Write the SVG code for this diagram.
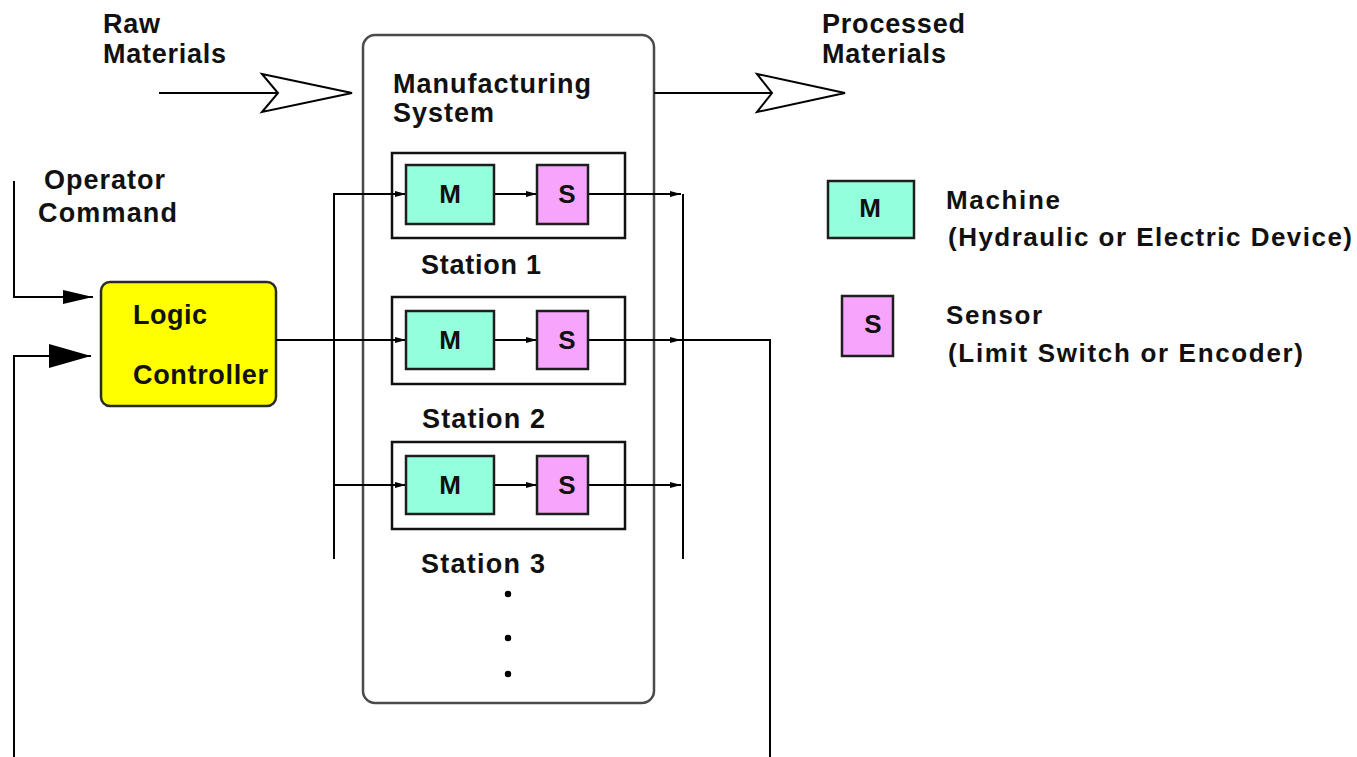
<svg xmlns="http://www.w3.org/2000/svg" width="1357" height="757" viewBox="0 0 1357 757">
<style>
text{font-family:"Liberation Sans",Arial,sans-serif;font-weight:bold;font-size:27px;fill:#111}
.lbl{font-size:26px}
.ms{font-size:26px;text-anchor:middle}
.line{fill:none;stroke:#000;stroke-width:2}
.mach{fill:#93ffdc;stroke:#1e1e1e;stroke-width:2.5}
.sens{fill:#f7a5fc;stroke:#1e1e1e;stroke-width:2.5}
.stn{fill:#fff;stroke:#111;stroke-width:2.5}
.hollow{fill:#fff;stroke:#000;stroke-width:2;stroke-linejoin:miter}
</style>
<defs>
<marker id="sm" viewBox="0 0 11 8" refX="11" refY="4" markerWidth="11" markerHeight="8" markerUnits="userSpaceOnUse" orient="auto">
<path d="M0,1 L11,4 L0,7 z" fill="#000"/>
</marker>
<marker id="md" viewBox="0 0 30 16" refX="30" refY="8" markerWidth="30" markerHeight="16" markerUnits="userSpaceOnUse" orient="auto">
<path d="M0,1 L30,8 L0,15 z" fill="#000"/>
</marker>
<marker id="lg" viewBox="0 0 42 24" refX="42" refY="12" markerWidth="42" markerHeight="24" markerUnits="userSpaceOnUse" orient="auto">
<path d="M0,0 L42,12 L0,24 z" fill="#000"/>
</marker>
</defs>

<rect width="1357" height="757" fill="#fff"/>

<g id="manufacturing-system">
<rect x="363" y="35" width="291" height="668" rx="12" fill="#fff" stroke="#4a4a4a" stroke-width="2.5"/>
<text x="393" y="93" textLength="198" lengthAdjust="spacing">Manufacturing</text>
<text x="393" y="122" textLength="101" lengthAdjust="spacing">System</text>
<circle cx="508" cy="594" r="3.2" fill="#000"/>
<circle cx="508" cy="638" r="3.2" fill="#000"/>
<circle cx="508" cy="674" r="3.2" fill="#000"/>
</g>

<g id="station-1">
<rect class="stn" x="392" y="153" width="233" height="85"/>
<text x="421" y="274" textLength="120" lengthAdjust="spacing">Station 1</text>
</g>
<g id="station-2">
<rect class="stn" x="392" y="297" width="233" height="87"/>
<text x="422" y="428" textLength="123" lengthAdjust="spacing">Station 2</text>
</g>
<g id="station-3">
<rect class="stn" x="392" y="442" width="233" height="87"/>
<text x="421" y="573" textLength="124" lengthAdjust="spacing">Station 3</text>
</g>

<g id="logic-controller">
<rect x="101" y="282" width="175" height="124" rx="9" fill="#ffff00" stroke="#2a2a2a" stroke-width="2.5"/>
<text x="133" y="324" textLength="74" lengthAdjust="spacing">Logic</text>
<text x="133" y="384" textLength="135" lengthAdjust="spacing">Controller</text>
</g>

<g id="raw-materials">
<text x="103" y="33" textLength="57" lengthAdjust="spacing">Raw</text>
<text x="103" y="63" textLength="123" lengthAdjust="spacing">Materials</text>
</g>
<g id="processed-materials">
<text x="822" y="33" textLength="143" lengthAdjust="spacing">Processed</text>
<text x="822" y="63" textLength="124" lengthAdjust="spacing">Materials</text>
</g>
<g id="operator-command">
<text x="44" y="189" textLength="121" lengthAdjust="spacing">Operator</text>
<text x="38" y="222" textLength="139" lengthAdjust="spacing">Command</text>
</g>

<g id="connectors">
<line class="line" x1="159" y1="93" x2="278" y2="93"/>
<polygon class="hollow" points="262,74 352,93 262,112 278,93"/>
<line class="line" x1="654" y1="93" x2="772" y2="93"/>
<polygon class="hollow" points="757,74 845,93 757,112 772,93"/>
<polyline class="line" points="334,559 334,194 406,194" marker-end="url(#sm)"/>
<line class="line" x1="683" y1="194" x2="683" y2="559"/>
<line class="line" x1="334" y1="485" x2="406" y2="485" marker-end="url(#sm)"/>
<line class="line" x1="276" y1="340" x2="406" y2="340" marker-end="url(#sm)"/>
<line class="line" x1="494" y1="194" x2="537" y2="194" marker-end="url(#sm)"/>
<line class="line" x1="494" y1="340" x2="537" y2="340" marker-end="url(#sm)"/>
<line class="line" x1="494" y1="485" x2="537" y2="485" marker-end="url(#sm)"/>
<line class="line" x1="588" y1="194" x2="681" y2="194" marker-end="url(#sm)"/>
<line class="line" x1="588" y1="485" x2="681" y2="485" marker-end="url(#sm)"/>
<line class="line" x1="588" y1="340" x2="681" y2="340" marker-end="url(#sm)"/>
<polyline class="line" points="681,340 770,340 770,757"/>
<polyline class="line" points="14,181 14,297 93,297" marker-end="url(#md)"/>
<polyline class="line" points="14,757 14,356 91,356" marker-end="url(#lg)"/>
</g>

<g id="node-m-1"><rect class="mach" x="406" y="165" width="88" height="59"/><text class="ms" x="450" y="203">M</text></g>
<g id="node-s-1"><rect class="sens" x="537" y="165" width="51" height="59"/><text class="ms" x="567" y="203">S</text></g>
<g id="node-m-2"><rect class="mach" x="406" y="311" width="88" height="58"/><text class="ms" x="450" y="349">M</text></g>
<g id="node-s-2"><rect class="sens" x="537" y="311" width="51" height="58"/><text class="ms" x="567" y="349">S</text></g>
<g id="node-m-3"><rect class="mach" x="406" y="456" width="88" height="58"/><text class="ms" x="450" y="494">M</text></g>
<g id="node-s-3"><rect class="sens" x="537" y="456" width="51" height="58"/><text class="ms" x="567" y="494">S</text></g>

<g id="legend-machine">
<rect class="mach" x="828" y="181" width="86" height="57"/>
<text class="ms" x="870" y="217">M</text>
<text class="lbl" x="946" y="209" textLength="114" lengthAdjust="spacing">Machine</text>
<text class="lbl" x="948" y="246" textLength="404" lengthAdjust="spacing">(Hydraulic or Electric Device)</text>
</g>
<g id="legend-sensor">
<rect class="sens" x="842" y="296" width="51" height="60"/>
<text class="ms" x="873" y="333">S</text>
<text class="lbl" x="946" y="324" textLength="96" lengthAdjust="spacing">Sensor</text>
<text class="lbl" x="948" y="362" textLength="355" lengthAdjust="spacing">(Limit Switch or Encoder)</text>
</g>
</svg>
